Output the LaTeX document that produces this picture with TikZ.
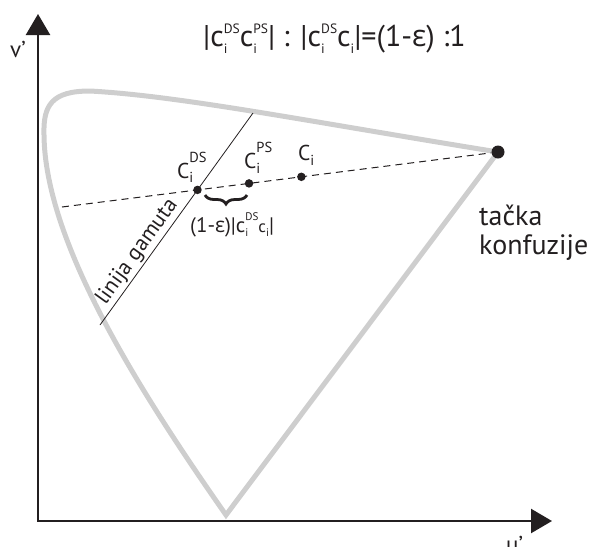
\documentclass[tikz,border=0pt]{standalone}
\usepackage{fontspec}
\setmainfont{PT Sans}
\newfontfamily\grk{Open Sans}
\usetikzlibrary{arrows.meta,decorations.pathreplacing,calc}
\newcommand\fsz[1]{\fontsize{#1}{#1}\selectfont}
\newcommand\scr[5]{{\fsz{#1}\rlap{\raisebox{#5}{#3}}\raisebox{#4}{#2}}}
\definecolor{outl}{RGB}{206,206,206}
\definecolor{ink}{RGB}{35,31,32}
\tikzset{
  outline/.style={draw=outl, line width=5pt, line join=miter},
  axis/.style={draw=ink, line width=2.4pt, {Triangle[length=21pt,width=24pt]}-{Triangle[length=21pt,width=24pt]}},
  gline/.style={draw=ink, line width=0.8pt},
  dline/.style={draw=ink, line width=1pt, dash pattern=on 7pt off 5pt},
  dot/.style={circle, fill=ink, inner sep=0pt, minimum size=8.5pt},
  bigdot/.style={circle, fill=ink, inner sep=0pt, minimum size=13pt},
  txt/.style={text=ink, inner sep=0pt, anchor=base west},
  bracestyle/.style={draw=ink, line width=2.8pt, decorate, decoration={brace, mirror, amplitude=9pt}}
}
\begin{document}
\begin{tikzpicture}[x=1pt,y=-1pt]
\useasboundingbox (0,0) rectangle (598,547);
% axes
\coordinate (O) at (38,521);
\coordinate (ytip) at (38,14);
\coordinate (xtip) at (552,521);
\draw[axis] (ytip) -- (O) -- (xtip);
\node[txt] (vlab) at (10,57) {\fsz{23}v’};
\node[txt] (ulab) at (506,552) {\fsz{23}u’};
% gamut outline
\coordinate (cp) at (498,152);
\coordinate (bv) at (226,515);
\draw[outline] (cp) -- (bv) .. controls (135,385) and (45,240) .. (44,135)
   .. controls (43,105) and (52,91) .. (90,91)
   .. controls (180,96) and (300,120) .. (cp);
% gamut line and dashed line
\coordinate (g1) at (100,325);
\coordinate (g2) at (253,113);
\coordinate (d1) at (62,207);
\node[bigdot] (conf) at (cp) {};
\draw[gline] (g1) -- node[sloped, pos=0.31, above, inner sep=2pt, text=ink] (glab) {\fsz{22}linija gamuta} (g2);
\draw[dline] (d1) -- (conf);
\coordinate (ds) at (intersection of g1--g2 and d1--cp);
\node[dot] (cds) at (ds) {};
\node[dot] (cps) at ($(d1)!0.429!(cp)$) {};
\node[dot] (ci) at ($(d1)!0.549!(cp)$) {};
% labels of points
\node[txt] (lds) at (177,178) {\fsz{21.5}C\scr{14.5}{DS}{i}{16pt}{-4pt}};
\node[txt] (lps) at (244,168) {\fsz{21.5}C\scr{14.5}{PS}{i}{16pt}{-5pt}};
\node[txt] (lci) at (298,160) {\fsz{21.5}C\raisebox{-5pt}{\fsz{14.5}i}};
% brace
\coordinate (b1) at (205,195);
\coordinate (b2) at (247,195);
\draw[bracestyle] (b1) -- (b2);
\node[txt] (blab) at (190,232) {\fsz{21}(1-{\grk ε})|c\scr{11}{DS}{i}{12pt}{-4pt}{\fsz{17}c}\raisebox{-4pt}{\fsz{11}i}|};
% formula
\node[txt] (form) at (203,46) {\fsz{30}|c\scr{13.5}{DS}{i}{13pt}{-7pt}c\scr{13.5}{PS}{i}{13pt}{-7pt}| : |c\scr{13.5}{DS}{i}{13pt}{-7pt}c\raisebox{-7pt}{\fsz{13.5}i}|=(1-{\grk ε}) :1};
% confusion point label
\node[txt] (tacka) at (479,225) {\fsz{28}tačka};
\node[txt] (konf) at (479,254) {\fsz{28}konfuzije};
\end{tikzpicture}
\end{document}
